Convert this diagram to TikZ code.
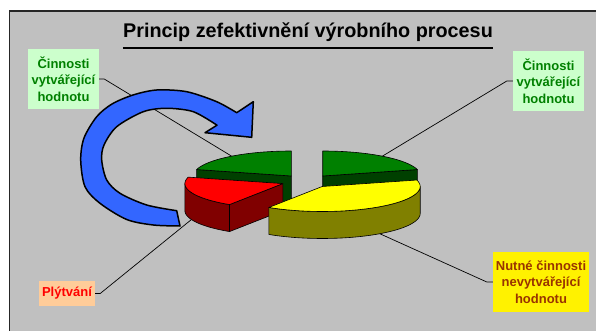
\documentclass[tikz,border=0pt]{standalone}
\usepackage{fontspec}
\setmainfont{Liberation Sans}
\usetikzlibrary{calc}

\definecolor{panelgray}{HTML}{C0C0C0}
\definecolor{valuefill}{HTML}{CCFFCC}
\definecolor{valuetext}{HTML}{008000}
\definecolor{wastefill}{HTML}{FFCC99}
\definecolor{needtext}{HTML}{993300}
\definecolor{arrowblue}{HTML}{3366FF}
\definecolor{greentop}{HTML}{008000}
\definecolor{greenside}{HTML}{004000}
\definecolor{redtop}{HTML}{FF0000}
\definecolor{redside}{HTML}{800000}
\definecolor{yellowtop}{HTML}{FFFF00}
\definecolor{yellowside}{HTML}{808000}

% pie geometry: radii of the top ellipse and height of the disc
\def\pieRx{98}
\def\pieRy{25}
\def\pieH{27}
% top of a slice: centre x, centre y, from, to, colour
\newcommand{\slicetop}[5]{%
  \filldraw[pieline, fill=#5] (#1,#2) -- plot[domain=#3:#4, samples=36]
    ({#1+\pieRx*cos(\x)}, {#2-\pieRy*sin(\x)}) -- cycle;}
% front wall of a slice: centre x, centre y, from, to, colour
\newcommand{\slicewall}[5]{%
  \filldraw[pieline, fill=#5] plot[domain=#3:#4, samples=36]
    ({#1+\pieRx*cos(\x)}, {#2-\pieRy*sin(\x)})
    -- plot[domain=#4:#3, samples=36]
    ({#1+\pieRx*cos(\x)}, {#2+\pieH-\pieRy*sin(\x)}) -- cycle;}
% cut face along one radius: centre x, centre y, angle, colour
\newcommand{\sliceface}[4]{%
  \filldraw[pieline, fill=#4] (#1,#2) -- ({#1+\pieRx*cos(#3)}, {#2-\pieRy*sin(#3)})
    -- ++(0,\pieH) -- (#1,{#2+\pieH}) -- cycle;}

\begin{document}
\begin{tikzpicture}[
    x=1pt, y=-1pt,
    every node/.style={align=center},
    title/.style={font=\fontsize{19.8}{24}\selectfont\bfseries, inner sep=0pt, anchor=base},
    tag/.style={font=\fontsize{13}{16.7}\selectfont\bfseries, inner sep=0pt},
    valuetag/.style={tag, fill=valuefill, text=valuetext, minimum width=71pt, minimum height=60pt},
    wastetag/.style={tag, fill=wastefill, text=red, minimum width=56pt, minimum height=25pt},
    needtag/.style={tag, fill=yellow, text=needtext, minimum width=96pt, minimum height=60pt},
    leader/.style={draw=black, line width=0.7pt},
    pieline/.style={draw=black, line width=0.6pt, line join=round},
    turnarrow/.style={fill=arrowblue, draw=black, line width=1.5pt, line join=round}
]
\useasboundingbox (0,0) rectangle (596,331);
\fill[white] (0,0) rectangle (596,331);

% grey chart area with its frame
\fill[panelgray] (9.5,11) rectangle (596,331);
\draw[line width=1.6pt, black!85] (9.5,331) -- (9.5,11) -- (596,11);

% title
\node[title] (title) at (308,38) {Princip zefektivnění výrobního procesu};
\draw[line width=1.5pt] ([yshift=-10pt]title.base west) -- ([yshift=-10pt]title.base east);

% labels
\node[valuetag] (valueL) at (63.5,79) {Činnosti\\vytvářející\\hodnotu};
\node[valuetag] (valueR) at (548.5,81) {Činnosti\\vytvářející\\hodnotu};
\node[wastetag] (waste) at (67,293.5) {Plýtvání};
\node[needtag] (need) at (541,282) {Nutné činnosti\\nevytvářející\\hodnotu};

% where the leaders meet the slices
\coordinate (greenL) at ({291.3+\pieRx*cos(127.5)}, {176-\pieRy*sin(127.5)});
\coordinate (greenR) at ({322.7+\pieRx*cos(52.5)}, {176-\pieRy*sin(52.5)});
\coordinate (redmid) at ({282.9+\pieRx*cos(201)}, {183.6+\pieH-\pieRy*sin(201)});
\coordinate (yellowmid) at ({322.2+\pieRx*cos(306)}, {186.5+\pieH-\pieRy*sin(306)});

\draw[leader] (valueL.east) -- ++(5,0) -- (greenL);
\draw[leader] (valueR.west) -- ++(-6,0) -- (greenR);
\draw[leader] (waste.east) -- ++(5,0) -- (redmid);
\draw[leader] (need.west) -- ++(-6,0) -- (yellowmid);

% exploded pie, back slices first
\sliceface{291.3}{176}{165}{greenside}
\slicetop{291.3}{176}{90}{165}{greentop}
\sliceface{322.7}{176}{15}{greenside}
\slicetop{322.7}{176}{15}{90}{greentop}
\sliceface{282.9}{183.6}{237}{redside}
\slicewall{282.9}{183.6}{180}{237}{redside}
\slicetop{282.9}{183.6}{165}{237}{redtop}
\slicewall{322.2}{186.5}{237}{360}{yellowside}
\slicetop{322.2}{186.5}{237}{375}{yellowtop}

% circular arrow
\filldraw[turnarrow] plot[smooth] coordinates {(180,226) (153.3,225) (126.7,219.5)
    (100,203.3) (85,186.7) (80.7,160) (84,138) (96.7,116.7) (112,104) (133,95)
    (156.7,90) (186.7,91.7) (216.7,101.7) (236.7,112.7)}
  -- (253.3,101.7) -- (251.7,137.3) -- (205,132.7) -- (217,125.2)
  -- plot[smooth] coordinates {(217,125.2) (193.3,111.7) (166.7,108.3) (143.3,111.7)
    (116.7,126.7) (104,145) (101.7,160) (106.7,180) (120,193.3) (146.7,205) (176.7,210.7)}
  -- cycle;
\end{tikzpicture}
\end{document}
